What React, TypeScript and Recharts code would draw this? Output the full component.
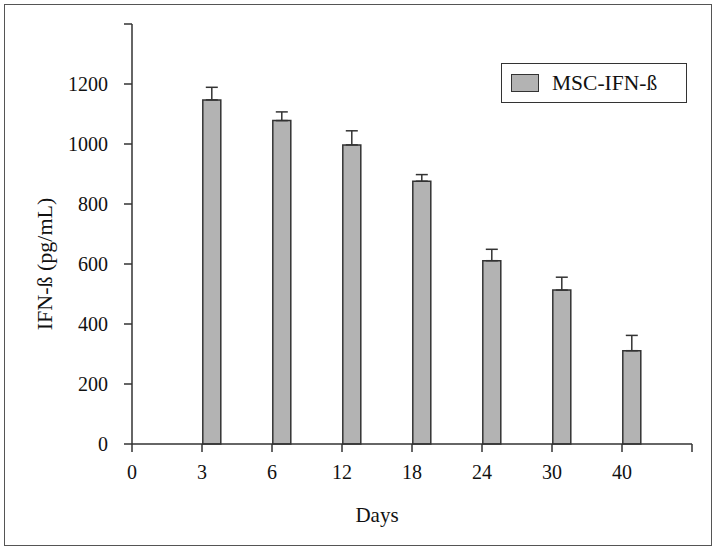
import React from "react";
import { ComposedChart, Bar, XAxis, YAxis, ErrorBar, Legend } from "recharts";

const tickLabels = ["0", "3", "6", "12", "18", "24", "30", "40", ""];
const days = ["3", "6", "12", "18", "24", "30", "40"];
const ifnValues = [1147, 1078, 997, 876, 611, 513, 311];
const ifnErrors = [42, 29, 47, 22, 38, 43, 51];
const yTicks = [0, 200, 400, 600, 800, 1000, 1200, 1400];

const data = days.map((d, i) => ({
  day: d,
  idx: tickLabels.indexOf(d),
  value: ifnValues[i],
  err: [0, ifnErrors[i]],
}));

const FONT = "'Liberation Serif', 'Times New Roman', serif";
const INK = "#333";
const BAR_FILL = "#b3b3b3";

const LegendBox = (props: any) => {
  const item = (props.payload || [])[0];
  return (
    <div
      style={{
        width: 186,
        height: 40,
        border: `1px solid ${INK}`,
        boxSizing: "border-box",
        display: "flex",
        alignItems: "center",
        background: "#fff",
        fontFamily: FONT,
        fontSize: 21.5,
        color: "#111",
      }}
    >
      <div
        style={{
          width: 28,
          height: 18,
          marginLeft: 9,
          marginRight: 13,
          background: BAR_FILL,
          border: `1.5px solid ${INK}`,
          boxSizing: "border-box",
        }}
      />
      <span>{item ? item.value : "MSC-IFN-ß"}</span>
    </div>
  );
};

const YLabel = (props: any) => {
  const vb = props.viewBox || { x: 0, y: 0, width: 0, height: 0 };
  const cx = 44;
  const cy = vb.y + vb.height / 2 + 30;
  return (
    <text
      x={cx}
      y={cy}
      transform={`rotate(-90, ${cx}, ${cy})`}
      textAnchor="middle"
      dominantBaseline="central"
      fontFamily={FONT}
      fontSize={22}
      fill="#111"
    >
      IFN-ß (pg/mL)
    </text>
  );
};

const XLabel = (props: any) => {
  const vb = props.viewBox || { x: 0, y: 0, width: 0, height: 0 };
  return (
    <text
      x={377}
      y={vb.y + 78}
      textAnchor="middle"
      fontFamily={FONT}
      fontSize={21}
      fill="#111"
    >
      Days
    </text>
  );
};

export default function App() {
  return (
    <div
      style={{
        position: "absolute",
        left: 0,
        top: 0,
        width: 717,
        height: 551,
        background: "#fff",
        fontFamily: FONT,
      }}
    >
      <div
        style={{
          position: "absolute",
          left: 4,
          top: 4,
          width: 708,
          height: 542,
          border: "1.5px solid #555",
          boxSizing: "border-box",
        }}
      />
      <ComposedChart
        width={717}
        height={551}
        data={data}
        margin={{ top: 24, right: 25, bottom: 27, left: 0 }}
        style={{ position: "absolute", left: 0, top: 0 }}
      >
        <XAxis
          xAxisId="t"
          type="number"
          dataKey="idx"
          domain={[0, 8]}
          ticks={[0, 1, 2, 3, 4, 5, 6, 7, 8]}
          tickFormatter={(v: number) => tickLabels[v] ?? ""}
          allowDataOverflow
          interval={0}
          height={80}
          tickSize={8}
          tickMargin={13}
          axisLine={{ stroke: INK, strokeWidth: 1.5 }}
          tickLine={{ stroke: INK, strokeWidth: 1.5 }}
          tick={{ fill: "#111", fontSize: 20, fontFamily: FONT }}
          label={<XLabel />}
        />
        <XAxis
          xAxisId="b"
          type="number"
          dataKey="idx"
          domain={[-0.14, 7.86]}
          allowDataOverflow
          orientation="top"
          height={0}
          hide
        />
        <YAxis
          type="number"
          domain={[0, 1400]}
          ticks={yTicks}
          interval={0}
          tickFormatter={(v: number) => (v === 1400 ? "" : String(v))}
          width={132}
          tickSize={8}
          tickMargin={16}
          axisLine={{ stroke: INK, strokeWidth: 1.5 }}
          tickLine={{ stroke: INK, strokeWidth: 1.5 }}
          tick={{ fill: "#111", fontSize: 20, fontFamily: FONT }}
          label={<YLabel />}
        />
        <Legend
          layout="horizontal"
          verticalAlign="middle"
          align="center"
          wrapperStyle={{ top: 63, left: 501, width: 186, height: 40 }}
          content={<LegendBox />}
        />
        <Bar
          xAxisId="b"
          dataKey="value"
          name="MSC-IFN-ß"
          barSize={18}
          fill={BAR_FILL}
          stroke={INK}
          strokeWidth={1.5}
          isAnimationActive={false}
        >
          <ErrorBar dataKey="err" width={6} stroke={INK} strokeWidth={1.5} direction="y" />
        </Bar>
      </ComposedChart>
    </div>
  );
}
